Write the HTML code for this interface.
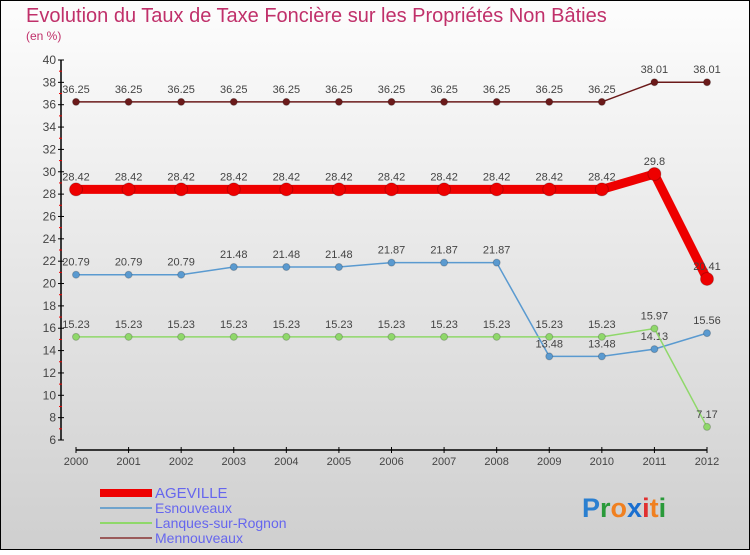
<!DOCTYPE html>
<html><head><meta charset="utf-8"><style>
body{margin:0;width:750px;height:550px;overflow:hidden;font-family:"Liberation Sans",sans-serif}
</style></head><body>
<svg id="c" width="750" height="550" xmlns="http://www.w3.org/2000/svg">
<defs><linearGradient id="bg" x1="0" y1="0" x2="0" y2="1"><stop offset="0" stop-color="#fdfdfd"/><stop offset="1" stop-color="#cfcfcf"/></linearGradient></defs>
<rect x="0.5" y="0.5" width="749" height="549" fill="url(#bg)" stroke="#000"/>
<text x="26" y="22" font-size="20" fill="#c0306a">Evolution du Taux de Taxe Foncière sur les Propriétés Non Bâties</text>
<text x="26" y="40" font-size="12" fill="#c0306a">(en %)</text>
<g id="axes"></g><g id="series"></g>
<g>
<rect x="100" y="489" width="52" height="8" fill="#e00"/>
<text x="155" y="498" font-size="15" fill="#6666ee">AGEVILLE</text>
<line x1="100" y1="508" x2="152" y2="508" stroke="#6fa3cc" stroke-width="2"/>
<text x="155" y="513" font-size="14" fill="#6666ee">Esnouveaux</text>
<line x1="100" y1="523" x2="152" y2="523" stroke="#8fd86a" stroke-width="2"/>
<text x="155" y="528" font-size="14" fill="#6666ee">Lanques-sur-Rognon</text>
<line x1="100" y1="538" x2="152" y2="538" stroke="#9a5a5a" stroke-width="2"/>
<text x="155" y="543" font-size="14" fill="#6666ee">Mennouveaux</text>
</g>
<text x="582" y="517" font-size="27" font-weight="bold"><tspan fill="#2a7fd0">P</tspan><tspan fill="#2a9a3a">r</tspan><tspan fill="#f08020">o</tspan><tspan fill="#1a6fd0">x</tspan><tspan fill="#e03030">i</tspan><tspan fill="#f08020">t</tspan><tspan fill="#2a9a3a">i</tspan></text>
</svg>
<script>
const years=[2000,2001,2002,2003,2004,2005,2006,2007,2008,2009,2010,2011,2012];
const yTicks=[6,8,10,12,14,16,18,20,22,24,26,28,30,32,34,36,38,40];
const mennouveaux=[36.25,36.25,36.25,36.25,36.25,36.25,36.25,36.25,36.25,36.25,36.25,38.01,38.01];
const ageville=[28.42,28.42,28.42,28.42,28.42,28.42,28.42,28.42,28.42,28.42,28.42,29.8,20.41];
const esnouveaux=[20.79,20.79,20.79,21.48,21.48,21.48,21.87,21.87,21.87,13.48,13.48,14.13,15.56];
const lanques=[15.23,15.23,15.23,15.23,15.23,15.23,15.23,15.23,15.23,15.23,15.23,15.97,7.17];
const NS="http://www.w3.org/2000/svg";
const X=i=>76+i*(707-76)/(years.length-1);
const Y=v=>440-(v-6)*(380/34);
function mk(t,a,p){const e=document.createElementNS(NS,t);for(const k in a)e.setAttribute(k,a[k]);p.appendChild(e);return e;}
const ax=document.getElementById('axes');
const yl=mk('line',{x1:61,y1:60,x2:61,y2:440,stroke:'#000','stroke-width':1.5},ax);


yTicks.forEach(v=>{
 mk('line',{x1:58,y1:Y(v),x2:64,y2:Y(v),stroke:'#000'},ax);
 if(v<40)mk('line',{x1:59,y1:Y(v+1),x2:62,y2:Y(v+1),stroke:'#e00'},ax);
 const t=mk('text',{x:56,y:Y(v)+4,'font-size':12,fill:'#444','text-anchor':'end'},ax);t.textContent=v;
 
 
});
const xl=mk('line',{x1:76,y1:450,x2:707,y2:450,stroke:'#000','stroke-width':1.5},ax);


years.forEach((y,i)=>{
 mk('line',{x1:X(i),y1:447,x2:X(i),y2:453,stroke:'#000'},ax);
 const t=mk('text',{x:X(i),y:465,'font-size':11,fill:'#444','text-anchor':'middle'},ax);t.textContent=y;
 
 
});
const sg=document.getElementById('series');
function draw(vals,color,w,r,name){
 const g=mk('g',{},sg);
 
 
 mk('polyline',{points:vals.map((v,i)=>X(i)+','+Y(v)).join(' '),fill:'none',stroke:color,'stroke-width':w},g);
 vals.forEach((v,i)=>{
  const c=mk('circle',{cx:X(i),cy:Y(v),r:r,fill:color,stroke:'#0003'},g);
  
  
  const t=mk('text',{x:X(i),y:Y(v)-9,'font-size':11,fill:'#444','text-anchor':'middle'},g);
  t.textContent=v;
  
  
 });
}
draw(mennouveaux,'#6b1a1a',1.5,3.5,'mennouveaux');
draw(ageville,'#ee0000',9,6.5,'ageville');
draw(esnouveaux,'#5a9ad0',1.5,3.5,'esnouveaux');
draw(lanques,'#8fd86a',1.5,3.5,'lanques');
</script>
</body></html>
